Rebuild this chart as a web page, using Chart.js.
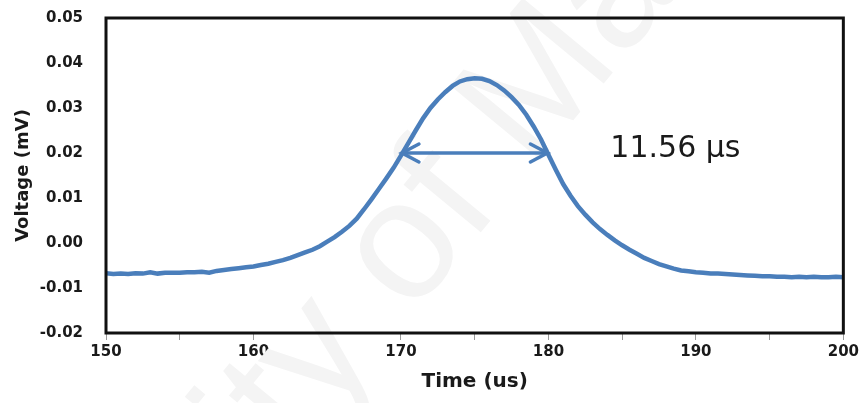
<!DOCTYPE html>
<html>
<head>
<meta charset="utf-8">
<script src="https://cdn.jsdelivr.net/npm/chart.js@4.4.1/dist/chart.umd.min.js"></script>
<style>
  html, body { margin: 0; padding: 0; background: #fff; }
  #wrap { width: 862px; height: 403px; }
</style>
</head>
<body>
<div id="wrap"><canvas id="pulse"></canvas></div>
<script>
// tempo (us) e tensão (mV)
const times = [
  150, 150.5, 151, 151.5, 152, 152.5, 153, 153.5, 154, 154.5,
  155, 155.5, 156, 156.5, 157, 157.5, 158, 158.5, 159, 159.5,
  160, 160.5, 161, 161.5, 162, 162.5, 163, 163.5, 164, 164.5,
  165, 165.5, 166, 166.5, 167, 167.5, 168, 168.5, 169, 169.5,
  170, 170.5, 171, 171.5, 172, 172.5, 173, 173.5, 174, 174.5,
  175, 175.5, 176, 176.5, 177, 177.5, 178, 178.5, 179, 179.5,
  180, 180.5, 181, 181.5, 182, 182.5, 183, 183.5, 184, 184.5,
  185, 185.5, 186, 186.5, 187, 187.5, 188, 188.5, 189, 189.5,
  190, 190.5, 191, 191.5, 192, 192.5, 193, 193.5, 194, 194.5,
  195, 195.5, 196, 196.5, 197, 197.5, 198, 198.5, 199, 199.5, 200
];
const voltages = [
  -0.0067, -0.0069, -0.0068, -0.0069, -0.0067, -0.0068, -0.0065, -0.0068, -0.0066, -0.0066,
  -0.0066, -0.0065, -0.0065, -0.0064, -0.0066, -0.0062, -0.0060, -0.0058, -0.0056, -0.0054,
  -0.0052, -0.0049, -0.0046, -0.0042, -0.0038, -0.0033, -0.0027, -0.0021, -0.0015, -0.0007,
  0.0003, 0.0013, 0.0025, 0.0038, 0.0054, 0.0075, 0.0097, 0.0120, 0.0143, 0.0167,
  0.0194, 0.0222, 0.0250, 0.0277, 0.0300, 0.0319, 0.0335, 0.0349, 0.0359, 0.0364,
  0.0366, 0.0365, 0.0360, 0.0351, 0.0339, 0.0324, 0.0307, 0.0285, 0.0259, 0.0230,
  0.0196, 0.0163, 0.0131, 0.0105, 0.0082, 0.0063, 0.0046, 0.0031, 0.0018, 0.0006,
  -0.0005, -0.0015, -0.0024, -0.0033, -0.0040, -0.0047, -0.0052, -0.0057, -0.0061, -0.0063,
  -0.0065, -0.0066, -0.0068, -0.0068, -0.0069, -0.0070, -0.0071, -0.0072, -0.0073, -0.0074,
  -0.0074, -0.0075, -0.0075, -0.0076, -0.0075, -0.0076, -0.0075, -0.0076, -0.0076, -0.0075, -0.0076
];

// seta da largura do pulso e o texto
const arrowTimes = [170, 180];
const arrowLevel = 0.02;
const widthLabel = '11.56 \u03bcs';
const labelAt = { x: 184.2, y: 0.0209 };

const xTicks = [150, 160, 170, 180, 190, 200];
const yTicks = [-0.02, -0.01, 0.00, 0.01, 0.02, 0.03, 0.04, 0.05];

const blue = '#4A7EBB';

const points = times.map((t, i) => ({ x: t, y: voltages[i] }));
const arrowPoints = arrowTimes.map(t => ({ x: t, y: arrowLevel }));

// marca d'água clara atrás da curva
const watermark = {
  id: 'watermark',
  beforeDatasetsDraw(chart) {
    const ctx = chart.ctx;
    ctx.save();
    ctx.font = '170px "Liberation Sans"';
    ctx.fillStyle = '#f4f4f4';
    ctx.textBaseline = 'middle';
    const before = ctx.measureText('University ').width;
    const of = ctx.measureText('of').width;
    ctx.translate(420, 232);
    ctx.rotate(-0.88);
    ctx.fillText('University of Malaya', -(before + of / 2), 0);
    ctx.restore();
  }
};

// moldura, pontas da seta e texto
const extras = {
  id: 'extras',
  afterDatasetsDraw(chart) {
    const ctx = chart.ctx;
    const a = chart.chartArea;
    const xs = chart.scales.x, ys = chart.scales.y;

    ctx.save();
    ctx.strokeStyle = '#111';
    ctx.lineWidth = 3;
    ctx.strokeRect(a.left, a.top, a.right - a.left, a.bottom - a.top);

    const x1 = xs.getPixelForValue(arrowTimes[0]);
    const x2 = xs.getPixelForValue(arrowTimes[1]);
    const yy = ys.getPixelForValue(arrowLevel);
    ctx.strokeStyle = blue;
    ctx.lineWidth = 3.5;
    ctx.lineCap = 'round';
    ctx.beginPath();
    ctx.moveTo(x1 + 18, yy - 9); ctx.lineTo(x1 + 1, yy); ctx.lineTo(x1 + 18, yy + 9);
    ctx.moveTo(x2 - 18, yy - 9); ctx.lineTo(x2 - 1, yy); ctx.lineTo(x2 - 18, yy + 9);
    ctx.stroke();

    ctx.fillStyle = '#1a1a1a';
    ctx.font = '30px "DejaVu Sans"';
    ctx.textAlign = 'left';
    ctx.textBaseline = 'middle';
    ctx.fillText(widthLabel, xs.getPixelForValue(labelAt.x), ys.getPixelForValue(labelAt.y));
    ctx.restore();
  }
};

const ctx = document.getElementById('pulse').getContext('2d');
const chart = new Chart(ctx, {
  type: 'scatter',
  data: {
    datasets: [{
      data: points,
      showLine: true,
      borderColor: blue,
      borderWidth: 4.5,
      pointRadius: 0,
      tension: 0
    }, {
      data: arrowPoints,
      showLine: true,
      borderColor: blue,
      borderWidth: 3.5,
      pointRadius: 0
    }]
  },
  options: {
    responsive: true,
    maintainAspectRatio: false,
    animation: false,
    layout: { padding: { top: 18, right: 0, left: 0, bottom: 0 } },
    plugins: { legend: { display: false }, tooltip: { enabled: false } },
    scales: {
      x: {
        type: 'linear',
        min: 150,
        max: 200,
        afterFit: s => { s.height = 70; },
        ticks: {
          stepSize: 5,
          autoSkip: false,
          maxRotation: 0,
          padding: 3,
          color: '#1a1a1a',
          font: { family: 'DejaVu Sans', size: 15, weight: 'bold' },
          callback: v => xTicks.includes(v) ? String(v) : ''
        },
        grid: { drawOnChartArea: false, drawTicks: true, tickLength: 7, color: '#999' },
        border: { display: false },
        title: {
          display: true,
          text: 'Time (us)',
          color: '#1a1a1a',
          font: { family: 'DejaVu Sans', size: 20, weight: 'bold' },
          padding: { top: 0, bottom: 9 }
        }
      },
      y: {
        min: -0.02,
        max: 0.05,
        afterFit: s => { s.width = 106; },
        afterBuildTicks: s => { s.ticks = yTicks.map(v => ({ value: v })); },
        ticks: {
          padding: 0,
          color: '#1a1a1a',
          font: { family: 'DejaVu Sans', size: 15, weight: 'bold' },
          callback: v => (Math.round(v * 100) / 100).toFixed(2)
        },
        grid: { drawOnChartArea: false, drawTicks: true, tickLength: 23, tickColor: 'rgba(0,0,0,0)' },
        border: { display: false },
        title: {
          display: true,
          text: 'Voltage (mV)',
          color: '#1a1a1a',
          font: { family: 'DejaVu Sans', size: 18, weight: 'bold' },
          padding: { top: 13, bottom: 0 }
        }
      }
    }
  },
  plugins: [watermark, extras]
});
</script>
</body>
</html>
